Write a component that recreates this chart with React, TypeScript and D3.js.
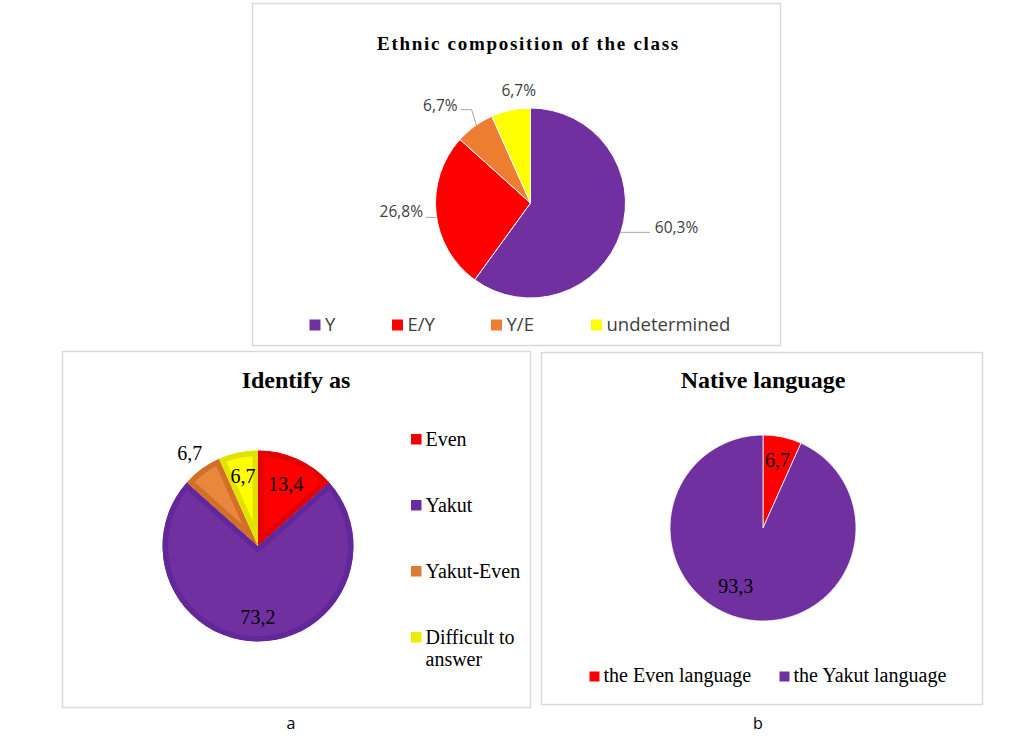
import React from "react";
import * as d3 from "d3";

// top chart: ethnic composition of the class
const ethnicCategories = ["Y", "E/Y", "Y/E", "undetermined"];
const ethnicValues = [60.3, 26.8, 6.7, 6.7];

// a: identify as
const identifyCategories = ["Even", "Yakut", "Yakut-Even", "Difficult to answer"];
const identifyValues = [13.4, 73.2, 6.7, 6.7];

// b: native language
const languageCategories = ["the Even language", "the Yakut language"];
const languageValues = [6.7, 93.3];

const captions = ["a", "b"];

const SERIF = "'Liberation Serif', 'Times New Roman', serif";
const SANS = "'Open Sans', 'Liberation Sans', sans-serif";
const BORDER = "#D9D9D9";

const polar = (r: number, a: number): [number, number] => [r * Math.sin(a), -r * Math.cos(a)];
const fmt = (v: number) => v.toFixed(1).replace(".", ",");
const mid = (d: d3.PieArcDatum<number>) => (d.startAngle + d.endAngle) / 2;

const makePie = () => d3.pie<number>().sort(null).value(d => d);

function EthnicChart() {
    const cx = 530.5, cy = 203, r = 95;
    const colors = ["#7030A0", "#FF0000", "#ED7D31", "#FFFF00"];
    const arcs = makePie()(ethnicValues);
    const arc = d3.arc<d3.PieArcDatum<number>>().innerRadius(0).outerRadius(r);

    // where each label sits relative to the slice edge (Excel "best fit" look)
    const labelLayout = [
        {dx: 34, dy: 1, anchor: "start", leader: [[0, 0], [29, 0]]},
        {dx: -13, dy: 4.5, anchor: "end", leader: [[0, 4.5], [-10, 4.5]]},
        {dx: -17, dy: -15.5, anchor: "end", leader: [[2, 0], [-3, -16.5], [-14, -16.5]]},
        {dx: 8, dy: -14, anchor: "middle", leader: null},
    ];
    const legendX = [309.5, 392, 491, 591];

    return (
        <g>
            <rect x={252.5} y={3.5} width={528} height={342} fill="#fff" stroke={BORDER} strokeWidth={1.5} />
            <text x={528.5} y={50} textAnchor="middle" fontFamily={SERIF} fontWeight="bold"
                  fontSize={19} letterSpacing={1.7} fill="#000">Ethnic composition of the class</text>
            <g transform={`translate(${cx},${cy})`}>
                {arcs.map((d, i) => (
                    <path key={i} d={arc(d) || ""} fill={colors[i]} stroke="#fff" strokeWidth={1} />
                ))}
                {arcs.map((d, i) => {
                    const [ex, ey] = polar(r, mid(d));
                    const lay = labelLayout[i];
                    return (
                        <g key={i}>
                            {lay.leader && (
                                <path d={d3.line()(lay.leader.map(p => [ex + p[0], ey + p[1]]) as [number, number][]) || ""}
                                      fill="none" stroke="#A6A6A6" strokeWidth={1} />
                            )}
                            <text x={ex + lay.dx} y={ey + lay.dy} textAnchor={lay.anchor}
                                  fontFamily={SANS} fontSize={15.5} fill="#404040">{fmt(d.data)}%</text>
                        </g>
                    );
                })}
            </g>
            {ethnicCategories.map((c, i) => (
                <g key={c}>
                    <rect x={legendX[i]} y={319.5} width={11} height={11} fill={colors[i]} />
                    <text x={legendX[i] + 15.5} y={331} fontFamily={SANS} fontSize={18.5} fill="#404040">{c}</text>
                </g>
            ))}
        </g>
    );
}

function IdentifyChart() {
    const cx = 258, cy = 546, r = 95.5;
    const fills = ["#FF0000", "#7030A0", "#E9873E", "#FFFF00"];
    const edges = ["#E20000", "#62279A", "#D2702A", "#E2E200"];
    const legendColors = ["#F20000", "#6A2C9E", "#DF7A35", "#EDED00"];
    const labelRadius = [0.71, 0.75, 1.21, 0.75];
    const arcs = makePie()(identifyValues);
    const arc = d3.arc<d3.PieArcDatum<number>>().innerRadius(0).outerRadius(r);
    const legendY = d3.scaleLinear().domain([0, 3]).range([445.5, 643.5]);

    return (
        <g>
            <rect x={62.5} y={351.5} width={468} height={356} fill="#fff" stroke={BORDER} strokeWidth={1.5} />
            <text x={296} y={388} textAnchor="middle" fontFamily={SERIF} fontWeight="bold" fontSize={24}>Identify as</text>
            <g transform={`translate(${cx},${cy})`}>
                <defs>
                    {arcs.map((d, i) => (
                        <clipPath key={i} id={`idclip${i}`}><path d={arc(d) || ""} /></clipPath>
                    ))}
                </defs>
                {arcs.map((d, i) => (
                    <path key={i} d={arc(d) || ""} fill={fills[i]} stroke={edges[i]} strokeWidth={11}
                          strokeLinejoin="miter" clipPath={`url(#idclip${i})`} />
                ))}
                {arcs.map((d, i) => {
                    const [lx, ly] = polar(r * labelRadius[i], mid(d));
                    return (
                        <text key={i} x={lx} y={ly} dy="0.34em" textAnchor="middle"
                              fontFamily={SERIF} fontSize={20} fill="#000">{fmt(d.data)}</text>
                    );
                })}
            </g>
            {identifyCategories.map((c, i) => {
                const y = legendY(i);
                const words = c === "Difficult to answer" ? ["Difficult to", "answer"] : [c];
                return (
                    <g key={c}>
                        <rect x={411} y={y - 11.5} width={10.5} height={10.5} fill={legendColors[i]} />
                        <text fontFamily={SERIF} fontSize={20} fill="#000">
                            {words.map((w, k) => (
                                <tspan key={k} x={425.5} y={y + k * 22}>{w}</tspan>
                            ))}
                        </text>
                    </g>
                );
            })}
        </g>
    );
}

function LanguageChart() {
    const cx = 763, cy = 528, r = 93;
    const colors = ["#FF0000", "#7030A0"];
    const labelRadius = [0.75, 0.68];
    const labelNudge = [[0, 0], [-14, -4]];
    const arcs = makePie()(languageValues);
    const arc = d3.arc<d3.PieArcDatum<number>>().innerRadius(0).outerRadius(r);
    const legendX = [589.5, 779.5];

    return (
        <g>
            <rect x={541.5} y={352.5} width={441} height={352} fill="#fff" stroke={BORDER} strokeWidth={1.5} />
            <text x={763} y={388} textAnchor="middle" fontFamily={SERIF} fontWeight="bold" fontSize={24}>Native language</text>
            <g transform={`translate(${cx},${cy})`}>
                {arcs.map((d, i) => (
                    <path key={i} d={arc(d) || ""} fill={colors[i]} stroke="#fff" strokeWidth={0.8} />
                ))}
                {arcs.map((d, i) => {
                    const [lx, ly] = polar(r * labelRadius[i], mid(d));
                    return (
                        <text key={i} x={lx + labelNudge[i][0]} y={ly + labelNudge[i][1]} dy="0.34em"
                              textAnchor="middle" fontFamily={SERIF} fontSize={20} fill="#000">{fmt(d.data)}</text>
                    );
                })}
            </g>
            {languageCategories.map((c, i) => (
                <g key={c}>
                    <rect x={legendX[i]} y={671.5} width={10} height={10} fill={colors[i]} />
                    <text x={legendX[i] + 14} y={682} fontFamily={SERIF} fontSize={20} fill="#000">{c}</text>
                </g>
            ))}
        </g>
    );
}

export default function App() {
    const captionX = [291, 758];
    return (
        <svg width={1021} height={741} style={{position: "absolute", left: 0, top: 0, background: "#fff"}}>
            <rect width={1021} height={741} fill="#fff" />
            <EthnicChart />
            <IdentifyChart />
            <LanguageChart />
            {captions.map((c, i) => (
                <text key={c} x={captionX[i]} y={729} textAnchor="middle" fontFamily={SANS} fontSize={16} fill="#000">{c}</text>
            ))}
        </svg>
    );
}
